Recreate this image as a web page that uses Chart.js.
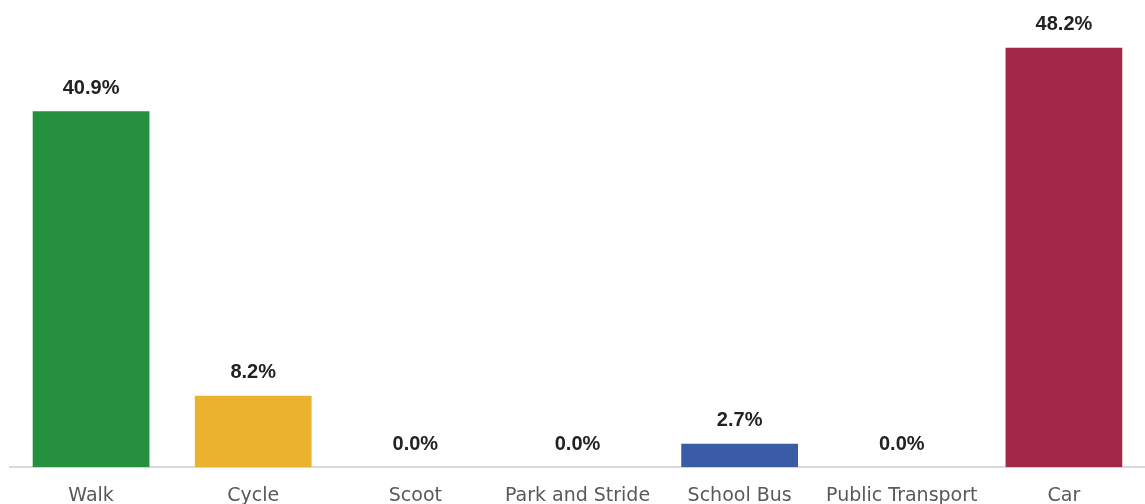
<!DOCTYPE html>
<html>
<head>
<meta charset="utf-8">
<script src="https://cdn.jsdelivr.net/npm/chart.js@4"></script>
<style>
  html, body { margin: 0; padding: 0; background: #fff; }
  #wrap { width: 1145px; height: 504px; position: relative; }
</style>
</head>
<body>
<div id="wrap"><canvas id="modeChart"></canvas></div>
<script>
// Travel mode shares (%)
const categories = ["Walk", "Cycle", "Scoot", "Park and Stride", "School Bus", "Public Transport", "Car"];
const shares = [40.9, 8.2, 0.0, 0.0, 2.7, 0.0, 48.2];
const barColors = ["#25903e", "#eab22e", "#7f7f7f", "#7f7f7f", "#3a5ba5", "#7f7f7f", "#a22848"];

// draw the percentage above each bar
const valueLabels = {
  id: "valueLabels",
  afterDatasetsDraw(chart) {
    const ctx = chart.ctx;
    const meta = chart.getDatasetMeta(0);
    ctx.save();
    ctx.font = "600 20px 'Liberation Sans', Arial, sans-serif";
    ctx.fillStyle = "#222222";
    ctx.textAlign = "center";
    ctx.textBaseline = "middle";
    meta.data.forEach(function (bar, i) {
      ctx.fillText(shares[i].toFixed(1) + "%", bar.x, bar.y - 23);
    });
    ctx.restore();
  },
};

const ctx = document.getElementById("modeChart").getContext("2d");
const myChart = new Chart(ctx, {
  type: "bar",
  data: {
    labels: categories,
    datasets: [
      {
        data: shares,
        backgroundColor: barColors,
        borderWidth: 0,
        categoryPercentage: 0.72,
        barPercentage: 1.0,
      },
    ],
  },
  options: {
    responsive: true,
    maintainAspectRatio: false,
    animation: false,
    layout: { padding: { top: 32, left: 10, right: 0, bottom: -20 } },
    scales: {
      x: {
        grid: { display: false, drawTicks: false },
        border: { display: true, color: "#d9d9d9", width: 2 },
        ticks: {
          color: "#595959",
          padding: 17,
          font: { family: "'DejaVu Sans', sans-serif", size: 19 },
        },
      },
      y: {
        display: false,
        min: 0,
        max: 50,
      },
    },
    plugins: {
      legend: { display: false },
      tooltip: { enabled: false },
    },
  },
  plugins: [valueLabels],
});
</script>
</body>
</html>
